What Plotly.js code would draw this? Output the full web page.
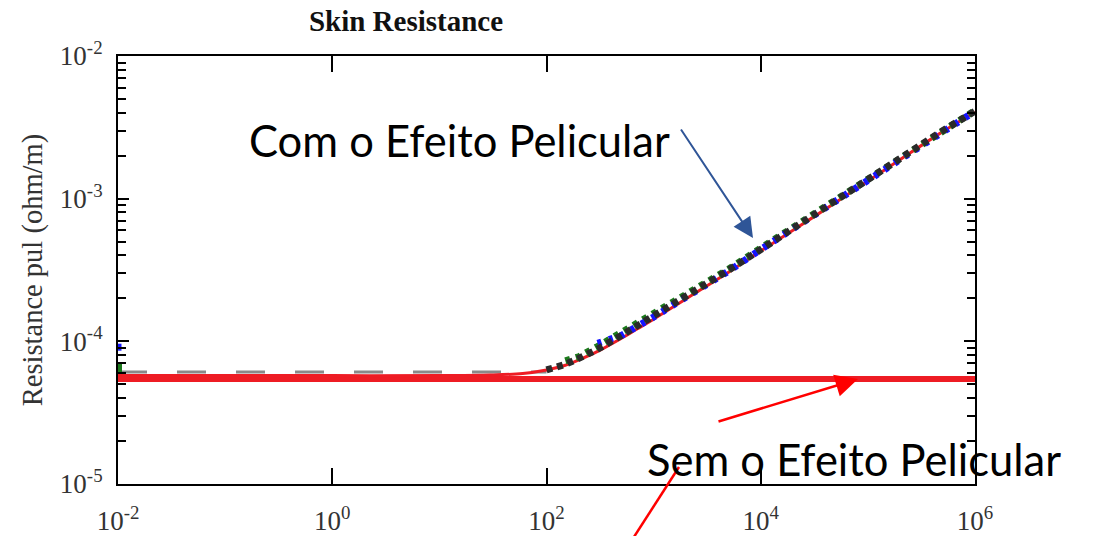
<!DOCTYPE html>
<html>
<head>
<meta charset="utf-8">
<script src="https://cdn.plot.ly/plotly-3.0.1.min.js"></script>
<style>html,body{margin:0;padding:0;background:#fff;}</style>
</head>
<body>
<div id="chart" style="width:1097px;height:536px;"></div>
<script>
// ---- data ----
const freqSkin = [0.01, 0.1, 1, 10, 30, 60, 100, 150, 200, 300, 500, 700, 1000, 2000, 5000, 1e4, 2e4, 5e4, 1e5, 2e5, 5e5, 1e6];
const rSkin = [5.75e-5, 5.75e-5, 5.75e-5, 5.75e-5, 5.8e-5, 5.95e-5, 6.3e-5, 6.8e-5, 7.4e-5, 8.5e-5, 1.05e-4, 1.22e-4, 1.43e-4, 1.98e-4, 3.05e-4, 4.3e-4, 6.0e-4, 9.4e-4, 1.33e-3, 1.88e-3, 2.95e-3, 4.05e-3];

const freqDC = [0.01, 1e6];
const rDC = [5.45e-5, 5.45e-5];

const freqGray = [0.01, 100];
const rGray = [6.1e-5, 6.1e-5];

const freqBlack = [100, 150, 200, 300, 500, 1000, 2000, 5000, 1e4, 2e4, 5e4, 1e5, 2e5, 5e5, 1e6];
const rBlack = [6.3e-5, 6.9e-5, 7.6e-5, 8.8e-5, 1.1e-4, 1.5e-4, 2.05e-4, 3.15e-4, 4.4e-4, 6.2e-4, 9.6e-4, 1.36e-3, 1.92e-3, 3.0e-3, 4.1e-3];

const freqGreen = [150, 200, 300, 500, 1000, 2000, 5000, 1e4, 2e4, 5e4, 1e5, 2e5, 5e5, 1e6];
const rGreen = [7.3e-5, 7.8e-5, 9.2e-5, 1.15e-4, 1.55e-4, 2.1e-4, 3.2e-4, 4.5e-4, 6.3e-4, 9.8e-4, 1.38e-3, 1.95e-3, 3.05e-3, 4.15e-3];

const freqBlue = [300, 500, 1000, 2000, 5000, 1e4, 2e4, 5e4, 1e5, 2e5, 5e5, 1e6];
const rBlue = [9.7e-5, 1.1e-4, 1.48e-4, 2.02e-4, 3.1e-4, 4.4e-4, 6.15e-4, 9.6e-4, 1.35e-3, 1.9e-3, 2.98e-3, 4.1e-3];

const freqStart = [0.01];
const rBlueStart = [9.1e-5];
const rGreenStart = [6.5e-5];

const xTickVals = [1e-2, 1, 1e2, 1e4, 1e6];
const xTickText = ['10<sup>-2</sup>', '10<sup>0</sup>', '10<sup>2</sup>', '10<sup>4</sup>', '10<sup>6</sup>'];
const yTickVals = [1e-5, 1e-4, 1e-3, 1e-2];
const yTickText = ['10<sup>-5</sup>', '10<sup>-4</sup>', '10<sup>-3</sup>', '10<sup>-2</sup>'];

const titleText = 'Skin Resistance';
const yTitle = 'Resistance pul (ohm/m)';
const labelWith = 'Com o Efeito Pelicular';
const labelWithout = 'Sem o Efeito Pelicular';

// ---- traces ----
const traces = [
  {x: freqGray, y: rGray, mode: 'lines', line: {color: '#8a8a8a', width: 3, dash: '29px,30px'}, hoverinfo: 'skip'},
  {x: freqDC, y: rDC, mode: 'lines', line: {color: '#ee1c24', width: 6}},
  {x: freqSkin, y: rSkin, mode: 'lines', line: {color: '#ee1c24', width: 3, shape: 'spline'}},
  {x: freqGreen, y: rGreen, mode: 'lines', line: {color: '#1c7a1c', width: 7, dash: '5px,6px'}},
  {x: freqBlue, y: rBlue, mode: 'lines', line: {color: '#1414ff', width: 7, dash: '4px,8px'}},
  {x: freqBlack, y: rBlack, mode: 'lines', line: {color: '#2a2a2a', width: 7, dash: '6px,5px'}},
  {x: freqStart, y: rBlueStart, mode: 'markers', marker: {color: '#1414ff', size: 7, symbol: 'square'}},
  {x: freqStart, y: rGreenStart, mode: 'markers', marker: {color: '#1c7a1c', size: 8, symbol: 'square'}}
];

const L = 118, R = 975, T = 56, B = 484, W = 1097, H = 536;
const px = v => (v - L) / (R - L);
const py = v => (B - v) / (B - T);

const serif = '"Liberation Serif", "Times New Roman", serif';
const tickFont = {family: serif, size: 27, color: '#333'};

const layout = {
  width: W, height: H,
  margin: {l: L, r: W - R, t: T, b: H - B, pad: 0},
  showlegend: false,
  paper_bgcolor: '#fff', plot_bgcolor: '#fff',
  title: {
    text: '<b>' + titleText + '</b>',
    font: {family: serif, size: 29, color: '#111'},
    xref: 'paper', x: px(406), xanchor: 'center',
    yref: 'container', y: 1 - 21 / H, yanchor: 'middle'
  },
  xaxis: {
    type: 'log', range: [-2, 6],
    tickvals: xTickVals, ticktext: xTickText,
    ticks: 'inside', ticklen: 16, tickwidth: 2, tickcolor: '#000',
    showline: true, linecolor: '#000', linewidth: 2, mirror: 'ticks',
    showgrid: false, zeroline: false,
    tickfont: tickFont, ticklabelstandoff: 12
  },
  yaxis: {
    type: 'log', range: [-5, -2],
    tickvals: yTickVals, ticktext: yTickText,
    ticks: 'inside', ticklen: 11, tickwidth: 2, tickcolor: '#000',
    minor: {ticks: 'inside', ticklen: 8, tickwidth: 2, tickcolor: '#000', dtick: 'D1', showgrid: false},
    showline: true, linecolor: '#000', linewidth: 2, mirror: 'ticks',
    showgrid: false, zeroline: false,
    tickfont: tickFont, ticklabelstandoff: 8,
    title: {text: yTitle, font: {family: serif, size: 28.5, color: '#333'}, standoff: 9}
  },
  annotations: [
    {xref: 'paper', yref: 'paper', x: px(459), y: py(140), text: labelWith, showarrow: false,
     xanchor: 'center', yanchor: 'middle', font: {family: 'Lato, "Noto Sans", sans-serif', size: 43.5, color: '#000'}},
    {xref: 'paper', yref: 'paper', x: px(854), y: py(459), text: labelWithout, showarrow: false,
     xanchor: 'center', yanchor: 'middle', font: {family: 'Lato, "Noto Sans", sans-serif', size: 43.5, color: '#000'}},
    {xref: 'paper', yref: 'paper', x: px(753), y: py(238), text: '', showarrow: true,
     axref: 'pixel', ayref: 'pixel', ax: 680 - 753, ay: 128 - 238,
     arrowhead: 2, arrowsize: 2, arrowwidth: 2, arrowcolor: '#2f5597'},
    {xref: 'paper', yref: 'paper', x: px(858), y: py(379), text: '', showarrow: true,
     axref: 'pixel', ayref: 'pixel', ax: 717 - 858, ay: 422 - 379,
     arrowhead: 2, arrowsize: 1.8, arrowwidth: 2.5, arrowcolor: '#ff0000'}
  ],
  shapes: [
    {type: 'line', xref: 'paper', yref: 'paper', x0: px(679), y0: py(467), x1: px(632), y1: py(540),
     line: {color: '#ff0000', width: 2.5}}
  ]
};

Plotly.newPlot('chart', traces, layout, {staticPlot: true, displayModeBar: false});
</script>
</body>
</html>
